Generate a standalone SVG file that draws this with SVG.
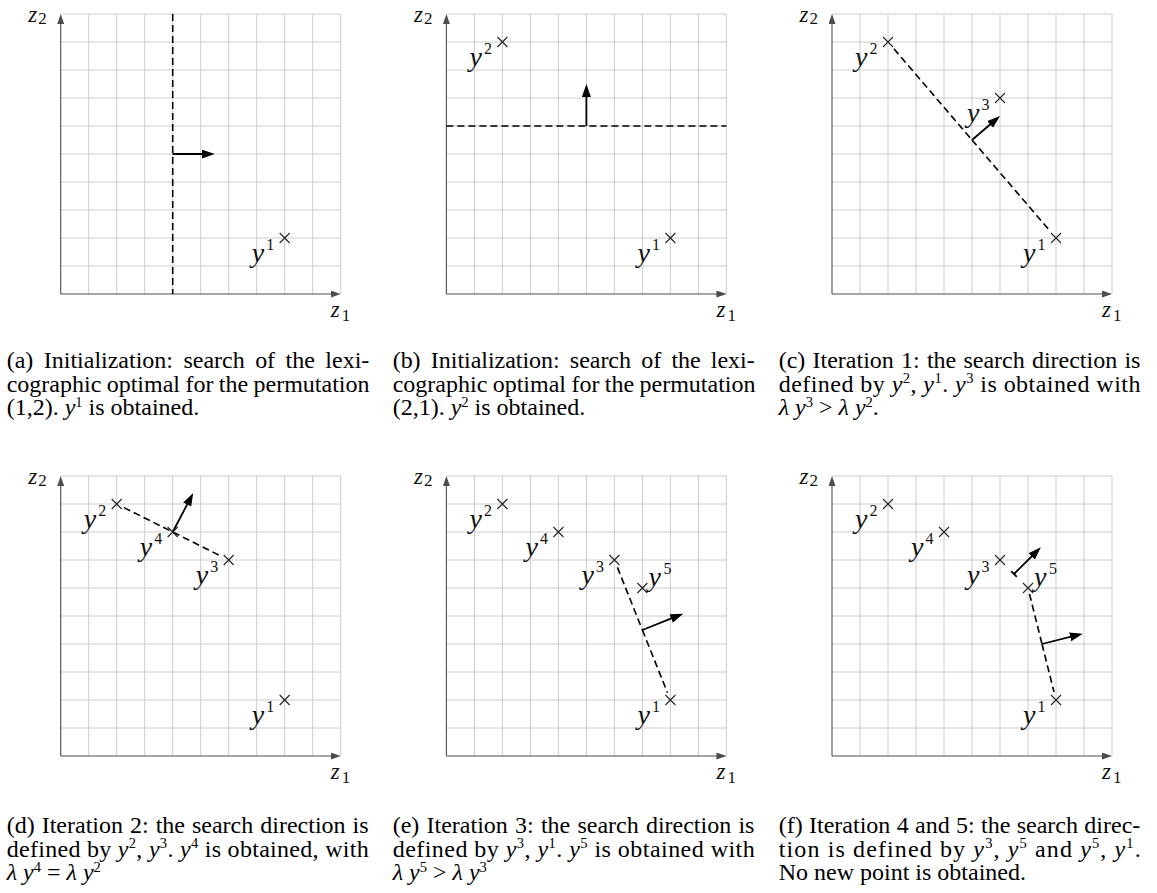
<svg xmlns="http://www.w3.org/2000/svg" width="1157" height="893" viewBox="0 0 1157 893">
<style>
.grid{stroke:#cccccc;stroke-width:1;fill:none}
.axis{stroke:#4d4d4d;stroke-width:1.1;fill:none;marker-end:url(#ah)}
.dash{stroke:#000;stroke-width:1.6;stroke-dasharray:7 4;fill:none}
.dir{stroke:#000;stroke-width:1.8;fill:none;marker-end:url(#dh)}
.bar{stroke:#000;stroke-width:1.8;fill:none}
.cross{stroke:#222;stroke-width:1.1;fill:none}
.m{font-family:"Liberation Serif",serif;font-style:italic;font-size:28px;fill:#111}
.ms{font-family:"Liberation Serif",serif;font-style:normal;font-size:16px;fill:#111}
.ax{font-family:"Liberation Serif",serif;font-style:italic;font-size:23px;fill:#111}
.axs{font-family:"Liberation Serif",serif;font-style:normal;font-size:17px;fill:#111}
.cap{font-family:"Liberation Serif",serif;font-size:24px;fill:#000}
.ci{font-style:italic}
.cs{font-size:14.5px}
</style>
<defs>
<marker id="ah" markerUnits="userSpaceOnUse" markerWidth="10" markerHeight="7" refX="7" refY="3.5" orient="auto"><path d="M0,0L10,3.5L0,7z" fill="#4d4d4d"/></marker>
<marker id="dh" markerUnits="userSpaceOnUse" markerWidth="14" markerHeight="10" refX="5" refY="4.5" orient="auto"><path d="M0,0L13,4.5L0,9z" fill="#000"/></marker>
<g id="frame">
<path class="grid" d="M28,0V-280M56,0V-280M84,0V-280M112,0V-280M140,0V-280M168,0V-280M196,0V-280M224,0V-280M252,0V-280M280,0V-280M0,-28H280M0,-56H280M0,-84H280M0,-112H280M0,-140H280M0,-168H280M0,-196H280M0,-224H280M0,-252H280M0,-280H280"/>
<path class="axis" d="M0,0V-277"/>
<path class="axis" d="M0,0H277"/>
</g>
<path id="x" class="cross" d="M-5,-5L5,5M-5,5L5,-5"/>
</defs>

<!-- Panel a -->
<g id="panel-a" transform="translate(60.7,294)">
<use href="#frame"/>
<text class="ax" x="-32.5" y="-272">z</text><text class="axs" x="-22.5" y="-270.5">2</text>
<text class="ax" x="270" y="23">z</text><text class="axs" x="281" y="27">1</text>
<g id="a-connectors">
<path class="dash" d="M112,-280V0"/>
<path class="dir" d="M112,-140H146"/>
</g>
<g id="a-y1"><use href="#x" x="224" y="-56"/><text class="m" x="191" y="-32.5">y</text><text class="ms" x="205.5" y="-44">1</text></g>
</g>

<!-- Panel b -->
<g id="panel-b" transform="translate(446.4,294)">
<use href="#frame"/>
<text class="ax" x="-32.5" y="-272">z</text><text class="axs" x="-22.5" y="-270.5">2</text>
<text class="ax" x="270" y="23">z</text><text class="axs" x="281" y="27">1</text>
<g id="b-connectors">
<path class="dash" d="M0,-168H280"/>
<path class="dir" d="M140,-168V-202"/>
</g>
<g id="b-y2"><use href="#x" x="56" y="-252"/><text class="m" x="23" y="-228.5">y</text><text class="ms" x="37.5" y="-240">2</text></g>
<g id="b-y1"><use href="#x" x="224" y="-56"/><text class="m" x="191" y="-32.5">y</text><text class="ms" x="205.5" y="-44">1</text></g>
</g>

<!-- Panel c -->
<g id="panel-c" transform="translate(832,294)">
<use href="#frame"/>
<text class="ax" x="-32.5" y="-272">z</text><text class="axs" x="-22.5" y="-270.5">2</text>
<text class="ax" x="270" y="23">z</text><text class="axs" x="281" y="27">1</text>
<g id="c-connectors">
<path class="dash" d="M61.9,-245.2L140,-154"/>
<path class="dash" d="M140,-154L217.5,-63.6"/>
<path class="dir" d="M140,-154L161.9,-172.8"/>
</g>
<g id="c-y2"><use href="#x" x="56" y="-252"/><text class="m" x="23" y="-228.5">y</text><text class="ms" x="37.5" y="-240">2</text></g>
<g id="c-y3"><use href="#x" x="168" y="-196"/><text class="m" x="135" y="-172.5">y</text><text class="ms" x="149.5" y="-184">3</text></g>
<g id="c-y1"><use href="#x" x="224" y="-56"/><text class="m" x="191" y="-32.5">y</text><text class="ms" x="205.5" y="-44">1</text></g>
</g>

<!-- Panel d -->
<g id="panel-d" transform="translate(60.7,756)">
<use href="#frame"/>
<text class="ax" x="-32.5" y="-272">z</text><text class="axs" x="-22.5" y="-270.5">2</text>
<text class="ax" x="270" y="23">z</text><text class="axs" x="281" y="27">1</text>
<g id="d-connectors">
<path class="dash" d="M63.2,-248.4L160.8,-199.6"/>
<path class="dir" d="M112,-224L128.8,-255.9"/>
</g>
<g id="d-y2"><use href="#x" x="56" y="-252"/><text class="m" x="23" y="-228.5">y</text><text class="ms" x="37.5" y="-240">2</text></g>
<g id="d-y4"><use href="#x" x="112" y="-224"/><text class="m" x="79" y="-200.5">y</text><text class="ms" x="93.5" y="-212">4</text></g>
<g id="d-y3"><use href="#x" x="168" y="-196"/><text class="m" x="135" y="-172.5">y</text><text class="ms" x="149.5" y="-184">3</text></g>
<g id="d-y1"><use href="#x" x="224" y="-56"/><text class="m" x="191" y="-32.5">y</text><text class="ms" x="205.5" y="-44">1</text></g>
</g>

<!-- Panel e -->
<g id="panel-e" transform="translate(446.4,756)">
<use href="#frame"/>
<text class="ax" x="-32.5" y="-272">z</text><text class="axs" x="-22.5" y="-270.5">2</text>
<text class="ax" x="270" y="23">z</text><text class="axs" x="281" y="27">1</text>
<g id="e-connectors">
<path class="dash" d="M171,-188.6L196,-126"/>
<path class="dash" d="M196,-126L221,-63.4"/>
<path class="dir" d="M196,-126L229.4,-139.3"/>
</g>
<g id="e-y2"><use href="#x" x="56" y="-252"/><text class="m" x="23" y="-228.5">y</text><text class="ms" x="37.5" y="-240">2</text></g>
<g id="e-y4"><use href="#x" x="112" y="-224"/><text class="m" x="79" y="-200.5">y</text><text class="ms" x="93.5" y="-212">4</text></g>
<g id="e-y3"><use href="#x" x="168" y="-196"/><text class="m" x="135" y="-172.5">y</text><text class="ms" x="149.5" y="-184">3</text></g>
<g id="e-y5"><use href="#x" x="196" y="-168"/><text class="m" x="202" y="-170">y</text><text class="ms" x="217" y="-182">5</text></g>
<g id="e-y1"><use href="#x" x="224" y="-56"/><text class="m" x="191" y="-32.5">y</text><text class="ms" x="205.5" y="-44">1</text></g>
</g>

<!-- Panel f -->
<g id="panel-f" transform="translate(832,756)">
<use href="#frame"/>
<text class="ax" x="-32.5" y="-272">z</text><text class="axs" x="-22.5" y="-270.5">2</text>
<text class="ax" x="270" y="23">z</text><text class="axs" x="281" y="27">1</text>
<g id="f-connectors">
<path class="bar" d="M179.2,-184.8L184.8,-179.2"/>
<path class="dir" d="M182,-182L203.2,-203.2"/>
<path class="dash" d="M197.5,-162L210,-112"/>
<path class="dash" d="M210,-112L222,-64"/>
<path class="dir" d="M210,-112L243,-120.3"/>
</g>
<g id="f-y2"><use href="#x" x="56" y="-252"/><text class="m" x="23" y="-228.5">y</text><text class="ms" x="37.5" y="-240">2</text></g>
<g id="f-y4"><use href="#x" x="112" y="-224"/><text class="m" x="79" y="-200.5">y</text><text class="ms" x="93.5" y="-212">4</text></g>
<g id="f-y3"><use href="#x" x="168" y="-196"/><text class="m" x="135" y="-172.5">y</text><text class="ms" x="149.5" y="-184">3</text></g>
<g id="f-y5"><use href="#x" x="196" y="-168"/><text class="m" x="202" y="-170">y</text><text class="ms" x="217" y="-182">5</text></g>
<g id="f-y1"><use href="#x" x="224" y="-56"/><text class="m" x="191" y="-32.5">y</text><text class="ms" x="205.5" y="-44">1</text></g>
</g>

<!-- Captions -->
<g id="captions" class="cap">
<text x="6.7" y="368" word-spacing="4.5" textLength="362.6" lengthAdjust="spacing">(a) Initialization: search of the lexi-</text>
<text x="6.7" y="391.5" word-spacing="-0.6">cographic optimal for the permutation</text>
<text x="6.7" y="415">(1,2). <tspan class="ci">y</tspan><tspan class="cs" dy="-8.5">1</tspan><tspan dy="8.5"> is obtained.</tspan></text>

<text x="392.7" y="368" word-spacing="4.3" textLength="362" lengthAdjust="spacing">(b) Initialization: search of the lexi-</text>
<text x="392.7" y="391.5" word-spacing="-0.6">cographic optimal for the permutation</text>
<text x="392.7" y="415">(2,1). <tspan class="ci">y</tspan><tspan class="cs" dy="-8.5">2</tspan><tspan dy="8.5"> is obtained.</tspan></text>

<text x="778.7" y="368" word-spacing="1.2">(c) Iteration 1: the search direction is</text>
<text x="778.7" y="391.5" textLength="361.7" lengthAdjust="spacing">defined by <tspan class="ci">y</tspan><tspan class="cs" dy="-8.5">2</tspan><tspan dy="8.5">, </tspan><tspan class="ci">y</tspan><tspan class="cs" dy="-8.5">1</tspan><tspan dy="8.5">. </tspan><tspan class="ci">y</tspan><tspan class="cs" dy="-8.5">3</tspan><tspan dy="8.5"> is obtained with</tspan></text>
<text x="778.7" y="415"><tspan class="ci">λ y</tspan><tspan class="cs" dy="-8.5">3</tspan><tspan dy="8.5"> &gt; </tspan><tspan class="ci">λ y</tspan><tspan class="cs" dy="-8.5">2</tspan><tspan dy="8.5">.</tspan></text>

<text x="6.7" y="833" word-spacing="1.0">(d) Iteration 2: the search direction is</text>
<text x="6.7" y="856.5" textLength="362" lengthAdjust="spacing">defined by <tspan class="ci">y</tspan><tspan class="cs" dy="-8.5">2</tspan><tspan dy="8.5">, </tspan><tspan class="ci">y</tspan><tspan class="cs" dy="-8.5">3</tspan><tspan dy="8.5">. </tspan><tspan class="ci">y</tspan><tspan class="cs" dy="-8.5">4</tspan><tspan dy="8.5"> is obtained, with</tspan></text>
<text x="6.7" y="880"><tspan class="ci">λ y</tspan><tspan class="cs" dy="-8.5">4</tspan><tspan dy="8.5"> = </tspan><tspan class="ci">λ y</tspan><tspan class="cs" dy="-8.5">2</tspan></text>

<text x="392.7" y="833" word-spacing="1.2">(e) Iteration 3: the search direction is</text>
<text x="392.7" y="856.5" textLength="362" lengthAdjust="spacing">defined by <tspan class="ci">y</tspan><tspan class="cs" dy="-8.5">3</tspan><tspan dy="8.5">, </tspan><tspan class="ci">y</tspan><tspan class="cs" dy="-8.5">1</tspan><tspan dy="8.5">. </tspan><tspan class="ci">y</tspan><tspan class="cs" dy="-8.5">5</tspan><tspan dy="8.5"> is obtained with</tspan></text>
<text x="392.7" y="880"><tspan class="ci">λ y</tspan><tspan class="cs" dy="-8.5">5</tspan><tspan dy="8.5"> &gt; </tspan><tspan class="ci">λ y</tspan><tspan class="cs" dy="-8.5">3</tspan></text>

<text x="778.7" y="833" word-spacing="0.35">(f) Iteration 4 and 5: the search direc-</text>
<text x="778.7" y="856.5" textLength="362" lengthAdjust="spacing">tion is defined by <tspan class="ci">y</tspan><tspan class="cs" dy="-8.5">3</tspan><tspan dy="8.5">, </tspan><tspan class="ci">y</tspan><tspan class="cs" dy="-8.5">5</tspan><tspan dy="8.5"> and </tspan><tspan class="ci">y</tspan><tspan class="cs" dy="-8.5">5</tspan><tspan dy="8.5">, </tspan><tspan class="ci">y</tspan><tspan class="cs" dy="-8.5">1</tspan><tspan dy="8.5">.</tspan></text>
<text x="778.7" y="880">No new point is obtained.</text>
</g>
</svg>
